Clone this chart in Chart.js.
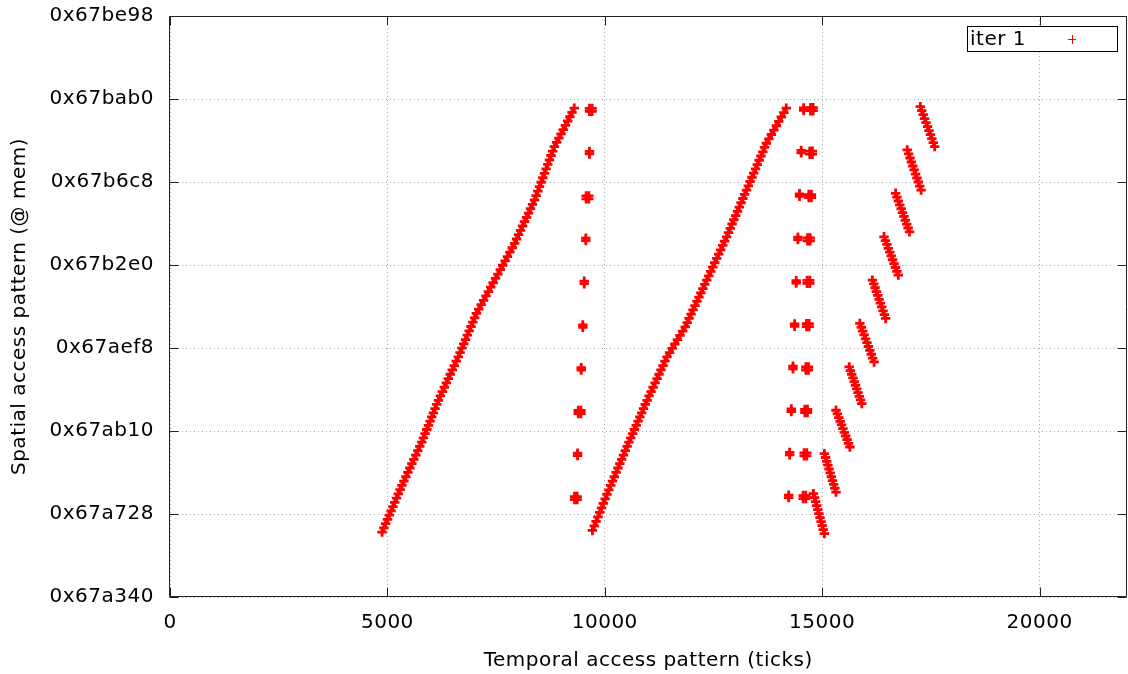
<!DOCTYPE html>
<html>
<head>
<meta charset="utf-8">
<title>Access pattern</title>
<script src="https://cdn.jsdelivr.net/npm/chart.js@4.4.0/dist/chart.umd.min.js"></script>
<style>
  html, body { margin: 0; padding: 0; background: #fff; overflow: hidden; }
  #viewport { width: 1128px; height: 674px; overflow: hidden; position: relative; }
  #plotBox { width: 1134px; height: 674px; position: absolute; left: 0; top: 0; }
</style>
</head>
<body>
<div id="viewport"><div id="plotBox"><canvas id="myChart" width="1134" height="674" style="width:1134px;height:674px"></canvas></div></div>
<script>
const ADDR_BASE = 0x67a340;
const X_MAX = 22000;
const SERIES_LABEL = 'iter 1';

const xTickValues = [0, 5000, 10000, 15000, 20000];
const yTickLabels = ['0x67a340', '0x67a728', '0x67ab10', '0x67aef8', '0x67b2e0', '0x67b6c8', '0x67bab0', '0x67be98'];

// samples are [tick, byte offset from ADDR_BASE]

// first linear walk over the buffer
const sweepOne = [
  [4877, 782], [4919, 833], [4960, 884], [5002, 935], [5043, 986], [5085, 1037], [5126, 1089], [5168, 1140], [5210, 1191], [5251, 1242], [5293, 1294], [5334, 1345],
  [5380, 1397], [5425, 1449], [5471, 1502], [5517, 1554], [5562, 1606], [5608, 1658], [5654, 1710], [5700, 1763], [5745, 1815], [5791, 1867],
  [5829, 1917], [5867, 1968], [5906, 2018], [5944, 2068], [5982, 2119], [6020, 2169], [6058, 2219], [6097, 2270], [6135, 2320], [6173, 2370],
  [6219, 2422], [6264, 2475], [6310, 2527], [6356, 2579], [6402, 2632], [6447, 2684], [6493, 2736], [6539, 2788], [6584, 2841], [6630, 2893],
  [6672, 2945], [6714, 2998], [6755, 3050], [6797, 3102], [6839, 3155], [6881, 3207], [6923, 3259], [6964, 3311], [7006, 3364], [7048, 3416],
  [7103, 3469], [7158, 3522], [7213, 3574], [7268, 3627], [7323, 3680], [7377, 3733], [7432, 3786], [7487, 3838], [7542, 3891], [7597, 3944],
  [7652, 3997], [7707, 4050], [7762, 4102], [7817, 4155], [7872, 4208], [7926, 4261],
  [7972, 4313], [8018, 4365], [8063, 4418], [8109, 4470], [8155, 4522], [8201, 4574], [8247, 4626], [8292, 4679], [8338, 4731], [8384, 4783],
  [8422, 4837], [8460, 4890], [8498, 4944], [8536, 4997], [8575, 5051], [8613, 5105], [8651, 5158], [8689, 5212], [8727, 5265], [8765, 5319],
  [8803, 5372], [8841, 5426],
  [8892, 5477], [8943, 5529], [8993, 5580], [9044, 5632], [9095, 5683], [9146, 5735], [9197, 5786], [9247, 5838], [9298, 5889]
];

// strided touches after the first walk
const strideOne = [
  [9648, 5887], [9708, 5887], [9648, 5851], [9708, 5851],
  [9648, 5368], [9648, 5338],
  [9572, 4833], [9632, 4833], [9572, 4797], [9632, 4797],
  [9564, 4324], [9564, 4294],
  [9527, 3805], [9527, 3775],
  [9495, 3278], [9495, 3248],
  [9458, 2763], [9458, 2733],
  [9390, 2247], [9450, 2247], [9390, 2211], [9450, 2211],
  [9374, 1734], [9374, 1704],
  [9305, 1210], [9365, 1210], [9305, 1174], [9365, 1174]
];

// second linear walk
const sweepTwo = [
  [9716, 802],
  [9758, 856], [9800, 911], [9842, 965], [9884, 1019], [9926, 1074], [9967, 1128], [10009, 1182], [10051, 1236], [10093, 1291], [10135, 1345],
  [10177, 1397], [10219, 1449], [10261, 1502], [10303, 1554], [10346, 1606], [10388, 1658], [10430, 1710], [10472, 1763], [10514, 1815], [10556, 1867],
  [10598, 1917], [10640, 1968], [10681, 2018], [10723, 2068], [10765, 2119], [10807, 2169], [10849, 2219], [10890, 2270], [10932, 2320], [10974, 2370],
  [11020, 2422], [11065, 2475], [11111, 2527], [11157, 2579], [11203, 2632], [11248, 2684], [11294, 2736], [11340, 2788], [11385, 2841], [11431, 2893],
  [11491, 2945], [11551, 2996], [11611, 3048], [11671, 3100], [11730, 3152], [11790, 3203], [11850, 3255],
  [11895, 3306], [11940, 3357], [11985, 3409], [12030, 3460], [12075, 3511], [12121, 3562], [12166, 3613], [12211, 3665], [12256, 3716], [12301, 3767], [12346, 3818],
  [12392, 3870], [12437, 3922], [12483, 3975], [12529, 4027], [12575, 4079], [12620, 4131], [12666, 4183], [12712, 4236], [12757, 4288], [12803, 4340],
  [12845, 4391], [12886, 4442], [12928, 4494], [12969, 4545], [13011, 4596], [13052, 4647], [13094, 4698], [13135, 4750], [13177, 4801], [13218, 4852], [13260, 4903],
  [13302, 4954], [13343, 5006], [13385, 5057], [13426, 5108], [13468, 5159], [13509, 5210], [13551, 5262], [13592, 5313], [13634, 5364], [13675, 5416], [13717, 5467],
  [13774, 5520], [13832, 5572], [13889, 5625], [13946, 5678], [14003, 5731], [14061, 5783], [14118, 5836], [14175, 5889]
];

// strided touches after the second walk (two passes)
const strideTwo = [
  [14575, 5892], [14575, 5862],
  [14518, 5381], [14518, 5351],
  [14480, 4858], [14480, 4828],
  [14443, 4336], [14443, 4306],
  [14403, 3812], [14403, 3782],
  [14366, 3290], [14366, 3260],
  [14329, 2780], [14329, 2750],
  [14290, 2265], [14290, 2235],
  [14252, 1742], [14252, 1712],
  [14229, 1227], [14229, 1197]
];

const strideThree = [
  [14732, 5895], [14792, 5895], [14732, 5859], [14792, 5859],
  [14716, 5371], [14776, 5371], [14716, 5335], [14776, 5335],
  [14693, 4849], [14753, 4849], [14693, 4813], [14753, 4813],
  [14664, 4327], [14724, 4327], [14664, 4291], [14724, 4291],
  [14655, 3815], [14715, 3815], [14655, 3779], [14715, 3779],
  [14641, 3293], [14701, 3293], [14641, 3257], [14701, 3257],
  [14625, 2771], [14685, 2771], [14625, 2735], [14685, 2735],
  [14602, 2259], [14662, 2259], [14602, 2223], [14662, 2223],
  [14586, 1737], [14646, 1737], [14586, 1701], [14646, 1701],
  [14563, 1222], [14623, 1222], [14563, 1186], [14623, 1186]
];

// backwards walks, one block at a time
const blocks = [
  [14799, 1245], [14824, 1197], [14849, 1149], [14875, 1100], [14900, 1052], [14925, 1004], [14950, 956], [14975, 908], [15001, 859], [15026, 811], [15051, 763],
  [15051, 1727], [15078, 1681], [15104, 1634], [15131, 1588], [15158, 1542], [15185, 1496], [15211, 1449], [15238, 1403], [15265, 1357], [15291, 1310], [15318, 1264],
  [15318, 2250], [15350, 2206], [15382, 2161], [15414, 2117], [15446, 2073], [15478, 2029], [15510, 1984], [15542, 1940], [15574, 1896], [15606, 1851], [15638, 1807],
  [15622, 2772], [15651, 2728], [15680, 2684], [15709, 2639], [15738, 2595], [15767, 2551], [15796, 2507], [15825, 2463], [15854, 2418], [15883, 2374], [15912, 2330],
  [15867, 3296], [15900, 3250], [15932, 3203], [15965, 3157], [15998, 3110], [16031, 3064], [16063, 3018], [16096, 2971], [16129, 2925], [16161, 2878], [16194, 2832],
  [16156, 3818], [16187, 3772], [16217, 3726], [16248, 3679], [16278, 3633], [16309, 3587], [16339, 3541], [16370, 3495], [16400, 3448], [16431, 3402], [16461, 3356],
  [16423, 4340], [16456, 4294], [16489, 4248], [16522, 4201], [16555, 4155], [16588, 4109], [16620, 4063], [16653, 4017], [16686, 3970], [16719, 3924], [16752, 3878],
  [16689, 4864], [16721, 4818], [16753, 4771], [16785, 4725], [16817, 4678], [16849, 4632], [16881, 4586], [16913, 4539], [16945, 4493], [16977, 4446], [17009, 4400],
  [16956, 5386], [16988, 5338], [17020, 5289], [17052, 5241], [17084, 5193], [17116, 5145], [17148, 5096], [17180, 5048], [17212, 5000], [17244, 4951], [17276, 4903],
  [17258, 5908], [17291, 5860], [17324, 5812], [17357, 5763], [17390, 5715], [17424, 5667], [17457, 5619], [17490, 5570], [17523, 5522], [17556, 5474], [17589, 5426]
];

const FONT = { family: 'DejaVu Sans', size: 20 };
const TICK_LEN = 9;

function toPoints(list) {
  return list.map(([tick, off]) => ({ x: tick, y: ADDR_BASE + off }));
}

// gnuplot style frame: border, inward ticks on all four sides, boxed key
const framePlugin = {
  id: 'frame',
  beforeDraw(chart) {
    chart.ctx.letterSpacing = '0.5px';
  },
  afterDatasetsDraw(chart) {
    const { ctx, chartArea, scales } = chart;
    const left = Math.round(chartArea.left) - 0.5;
    const right = Math.round(chartArea.right) - 0.5;
    const top = Math.round(chartArea.top) + 0.5;
    const bottom = Math.round(chartArea.bottom) - 0.5;

    ctx.save();
    ctx.strokeStyle = '#222';
    ctx.lineWidth = 1;
    ctx.beginPath();
    ctx.rect(left, top, right - left, bottom - top);

    scales.x.ticks.forEach((t) => {
      const px = Math.round(scales.x.getPixelForValue(t.value)) + 0.5;
      ctx.moveTo(px, bottom);
      ctx.lineTo(px, bottom - TICK_LEN);
      ctx.moveTo(px, top);
      ctx.lineTo(px, top + TICK_LEN);
    });
    scales.y.ticks.forEach((t) => {
      const py = Math.round(scales.y.getPixelForValue(t.value)) + 0.5;
      ctx.moveTo(left, py);
      ctx.lineTo(left + TICK_LEN, py);
      ctx.moveTo(right, py);
      ctx.lineTo(right - TICK_LEN, py);
    });
    ctx.stroke();

    // key
    const boxX = 967.5, boxY = 26.5, boxW = 150, boxH = 25;
    ctx.fillStyle = '#fff';
    ctx.fillRect(boxX, boxY, boxW, boxH);
    ctx.strokeStyle = '#000';
    ctx.strokeRect(boxX, boxY, boxW, boxH);
    ctx.fillStyle = '#000';
    ctx.font = `${FONT.size}px ${FONT.family}`;
    ctx.textAlign = 'left';
    ctx.textBaseline = 'middle';
    ctx.fillText(chart.data.datasets[0].label, 970, boxY + boxH / 2 + 1);

    const ds = chart.data.datasets[0];
    ctx.strokeStyle = ds.borderColor;
    ctx.lineWidth = 1;
    ctx.beginPath();
    ctx.moveTo(1072 - 4, 39.5);
    ctx.lineTo(1072 + 4, 39.5);
    ctx.moveTo(1072.5, 35);
    ctx.lineTo(1072.5, 44);
    ctx.stroke();
    ctx.restore();
  }
};

const ctx = document.getElementById('myChart').getContext('2d');

const myChart = new Chart(ctx, {
  type: 'scatter',
  data: {
    datasets: [
      {
        label: SERIES_LABEL,
        data: toPoints([...sweepOne, ...strideOne, ...sweepTwo, ...strideTwo, ...strideThree, ...blocks]),
        pointStyle: 'cross',
        pointRadius: 4.7,
        borderWidth: 2.8,
        borderColor: '#ff0000',
        backgroundColor: '#ff0000',
      },
    ],
  },
  options: {
    responsive: false,
    animation: false,
    layout: { padding: { top: 16, right: 2, left: 0, bottom: 0 } },
    plugins: {
      legend: { display: false },
      tooltip: { enabled: false },
    },
    scales: {
      x: {
        type: 'linear',
        min: 0,
        max: X_MAX,
        afterBuildTicks: (scale) => { scale.ticks = xTickValues.map((v) => ({ value: v })); },
        afterFit: (scale) => { scale.height = 77; },
        ticks: { color: '#000', font: FONT, padding: 14, maxRotation: 0, callback: (v) => String(v) },
        grid: { color: '#a8a8a8', lineWidth: 1, drawTicks: false },
        border: { display: false, dash: [1, 3] },
        title: {
          display: true,
          text: 'Temporal access pattern (ticks)',
          color: '#000',
          font: FONT,
          padding: { top: 0, bottom: 1 },
        },
      },
      y: {
        type: 'linear',
        min: parseInt(yTickLabels[0], 16),
        max: parseInt(yTickLabels[yTickLabels.length - 1], 16),
        afterBuildTicks: (scale) => { scale.ticks = yTickLabels.map((l) => ({ value: parseInt(l, 16) })); },
        afterFit: (scale) => { scale.width = 170; },
        ticks: { color: '#000', font: FONT, padding: 4, callback: (v) => '0x' + v.toString(16) },
        // invisible tick stubs keep the labels clear of the frame without padding the top
        grid: { color: '#a8a8a8', lineWidth: 1, drawTicks: true, tickLength: 12, tickColor: 'rgba(0,0,0,0)' },
        border: { display: false, dash: [1, 3] },
        title: {
          display: true,
          text: 'Spatial access pattern (@ mem)',
          color: '#000',
          font: FONT,
          padding: { top: 8, bottom: 0 },
        },
      },
    },
  },
  plugins: [framePlugin],
});
</script>
</body>
</html>
